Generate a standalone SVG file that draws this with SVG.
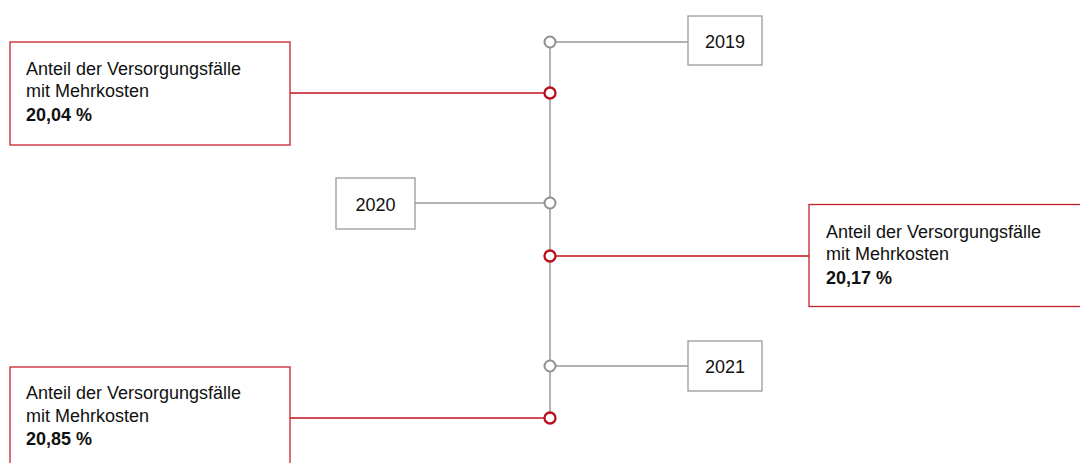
<svg xmlns="http://www.w3.org/2000/svg" width="1080" height="463" viewBox="0 0 1080 463">
<style>
  .bg{fill:#ffffff}
  .redbox{fill:#ffffff;stroke:#c8202a;stroke-width:1.3}
  .yearbox{fill:#ffffff;stroke:#9a9a9a;stroke-width:1.3}
  .t{font-family:"Liberation Sans",Arial,sans-serif;font-size:18px;fill:#111111}
  .b{font-weight:bold}
  .yr{font-family:"Liberation Sans",Arial,sans-serif;font-size:18px;fill:#111111;text-anchor:middle}
  .gline{stroke:#9a9a9a;stroke-width:1.5;fill:none}
  .rline{stroke:#c0121c;stroke-width:1.3;fill:none}
  .gdot{fill:#ffffff;stroke:#8f8f8f;stroke-width:2}
  .rdot{fill:#ffffff;stroke:#b80f1a;stroke-width:2.3}
</style>
<rect class="bg" x="0" y="0" width="1080" height="463"/>
<g id="connectors">
  <line class="gline" x1="550" y1="42" x2="550" y2="418"/>
  <line class="gline" x1="550" y1="42" x2="688" y2="42"/>
  <line class="gline" x1="415" y1="203" x2="550" y2="203"/>
  <line class="gline" x1="550" y1="366" x2="688" y2="366"/>
  <line class="rline" x1="290" y1="93" x2="550" y2="93"/>
  <line class="rline" x1="550" y1="256" x2="809" y2="256"/>
  <line class="rline" x1="290" y1="418" x2="550" y2="418"/>
</g>
<g id="dot-2019"><circle class="gdot" cx="550" cy="42" r="5.5"/></g>
<g id="dot-a1"><circle class="rdot" cx="550" cy="93" r="5.5"/></g>
<g id="dot-2020"><circle class="gdot" cx="550" cy="203" r="5.5"/></g>
<g id="dot-a2"><circle class="rdot" cx="550" cy="256" r="5.5"/></g>
<g id="dot-2021"><circle class="gdot" cx="550" cy="366" r="5.5"/></g>
<g id="dot-a3"><circle class="rdot" cx="550" cy="418" r="5.5"/></g>
<g id="year-2019">
  <rect class="yearbox" x="688" y="16" width="74" height="49"/>
  <text class="yr" x="725" y="47.5">2019</text>
</g>
<g id="year-2020">
  <rect class="yearbox" x="336" y="178" width="79" height="51"/>
  <text class="yr" x="375.5" y="210.5">2020</text>
</g>
<g id="year-2021">
  <rect class="yearbox" x="688" y="341" width="74" height="50"/>
  <text class="yr" x="725" y="373">2021</text>
</g>
<g id="anteil-2019">
  <rect class="redbox" x="10" y="42" width="280" height="103"/>
  <text class="t" x="26" y="74.5">Anteil der Versorgungsfälle</text>
  <text class="t" x="26" y="97">mit Mehrkosten</text>
  <text class="t b" x="26" y="120.5">20,04 %</text>
</g>
<g id="anteil-2020">
  <rect class="redbox" x="809" y="204.5" width="290" height="102"/>
  <text class="t" x="826" y="237.5">Anteil der Versorgungsfälle</text>
  <text class="t" x="826" y="260">mit Mehrkosten</text>
  <text class="t b" x="826" y="284">20,17 %</text>
</g>
<g id="anteil-2021">
  <rect class="redbox" x="10" y="367" width="280" height="110"/>
  <text class="t" x="26" y="398.5">Anteil der Versorgungsfälle</text>
  <text class="t" x="26" y="421.5">mit Mehrkosten</text>
  <text class="t b" x="26" y="445">20,85 %</text>
</g>
</svg>
